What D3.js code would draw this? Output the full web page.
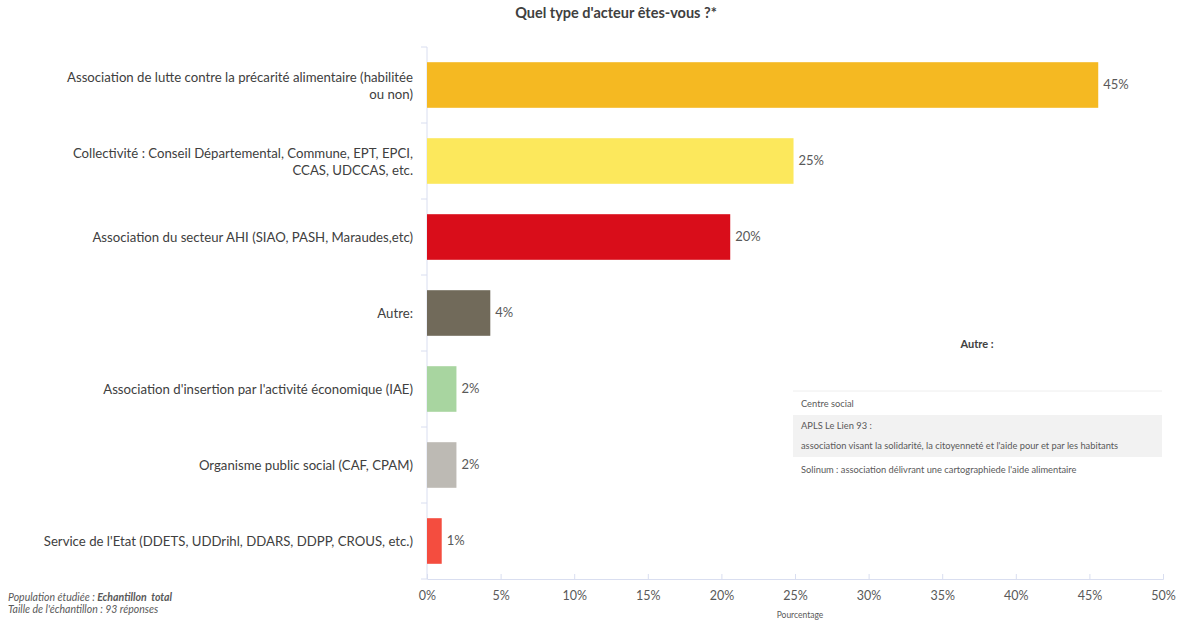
<!DOCTYPE html>
<html>
<head>
<meta charset="utf-8">
<script src="https://cdn.jsdelivr.net/npm/d3@7"></script>
<style>
  body { margin: 0; background: #fff; }
  text { font-family: Lato, "Open Sans", sans-serif; }
</style>
</head>
<body>
<div id="chart"></div>
<script>
// data
var categories = [
  ["Association de lutte contre la précarité alimentaire (habilitée", "ou non)"],
  ["Collectivité : Conseil Départemental, Commune, EPT, EPCI,", "CCAS, UDCCAS, etc."],
  ["Association du secteur AHI (SIAO, PASH, Maraudes,etc)"],
  ["Autre:"],
  ["Association d'insertion par l'activité économique (IAE)"],
  ["Organisme public social (CAF, CPAM)"],
  ["Service de l'Etat (DDETS, UDDrihl, DDARS, DDPP, CROUS, etc.)"]
];
var values = [45.6, 24.9, 20.6, 4.3, 2.0, 2.0, 1.0];
var valueLabels = ["45%", "25%", "20%", "4%", "2%", "2%", "1%"];
var colors = ["#f5b922", "#fce85c", "#d90d1a", "#716a5a", "#a8d5a0", "#bdbab4", "#f44d3f"];
var xTicks = [0, 5, 10, 15, 20, 25, 30, 35, 40, 45, 50];
var autreRows = [
  ["Centre social"],
  ["APLS Le Lien 93 :", "association visant la solidarité, la citoyenneté et l'aide pour et par les habitants"],
  ["Solinum : association délivrant une cartographiede l'aide alimentaire"]
];

var svgWidth = 1178, svgHeight = 624;
var margin = {top: 47, right: 11, bottom: 45, left: 427};
var width = svgWidth - margin.left - margin.right;
var height = svgHeight - margin.top - margin.bottom;

var svg = d3.select("#chart").append("svg")
  .attr("width", svgWidth)
  .attr("height", svgHeight);

svg.append("text")
  .attr("x", 616).attr("y", 18)
  .attr("text-anchor", "middle")
  .attr("font-size", 14.5).attr("font-weight", "bold")
  .attr("fill", "#404040")
  .text("Quel type d'acteur êtes-vous ?*");

var g = svg.append("g")
  .attr("transform", `translate(${margin.left}, ${margin.top})`);

var x = d3.scaleLinear().domain([0, 50]).range([0, 736]);
var y = d3.scaleBand()
  .domain(d3.range(categories.length))
  .range([0, height])
  .paddingInner(0.4)
  .paddingOuter(0.2);

// x axis
var xAxis = g.append("g")
  .attr("transform", `translate(0, ${height})`)
  .call(d3.axisBottom(x).tickValues(xTicks).tickFormat(d => d + "%").tickSize(-5).tickPadding(12));
xAxis.select(".domain").attr("stroke", "#d9def0");
xAxis.selectAll(".tick line").attr("stroke", "#d9def0");
xAxis.selectAll("text").attr("fill", "#595959").attr("font-size", 12.5).attr("font-family", "Lato, sans-serif");

// y axis (boundary ticks)
g.append("line")
  .attr("x1", 0).attr("x2", 0).attr("y1", 0).attr("y2", height)
  .attr("stroke", "#d9def0");
g.selectAll(".ytick")
  .data(d3.range(categories.length + 1))
  .enter().append("line")
  .attr("x1", -6).attr("x2", 0)
  .attr("y1", d => d * y.step())
  .attr("y2", d => d * y.step())
  .attr("stroke", "#d9def0");

var labels = g.selectAll(".ylabel")
  .data(categories)
  .enter().append("text")
  .attr("text-anchor", "end")
  .attr("font-size", 13.2)
  .attr("fill", "#404040")
  .attr("y", (d, i) => y(i) + y.bandwidth() / 2);
labels.selectAll("tspan")
  .data(d => d.map((t, j) => ({t: t, j: j, n: d.length})))
  .enter().append("tspan")
  .attr("x", -14)
  .attr("dy", d => d.j === 0 ? ((d.n === 1 ? 0.35 : -0.25) + "em") : "1.3em")
  .text(d => d.t);

// bars
g.selectAll(".bar")
  .data(values)
  .enter().append("rect")
  .attr("x", 0)
  .attr("y", (d, i) => y(i))
  .attr("width", d => x(d))
  .attr("height", y.bandwidth())
  .attr("fill", (d, i) => colors[i]);

g.selectAll(".val")
  .data(values)
  .enter().append("text")
  .attr("x", d => x(d) + 5)
  .attr("y", (d, i) => y(i) + y.bandwidth() / 2 + 4)
  .attr("font-size", 13)
  .attr("fill", "#595959")
  .text((d, i) => valueLabels[i]);

// axis title
svg.append("text")
  .attr("x", 800).attr("y", 618)
  .attr("text-anchor", "middle")
  .attr("font-size", 8.5).attr("fill", "#595959")
  .text("Pourcentage");

// footnote
var fn = svg.append("text")
  .attr("x", 8).attr("y", 601)
  .attr("font-size", 10.5).attr("font-style", "italic").attr("fill", "#595959")
  .style("white-space", "pre");
fn.append("tspan").text("Population étudiée : ");
fn.append("tspan").attr("font-weight", "bold").text("Echantillon  total");
svg.append("text")
  .attr("x", 8).attr("y", 613)
  .attr("font-size", 10.5).attr("font-style", "italic").attr("fill", "#595959")
  .text("Taille de l'échantillon : 93 réponses");

// inset "Autre"
svg.append("text")
  .attr("x", 977).attr("y", 348)
  .attr("text-anchor", "middle")
  .attr("font-size", 11).attr("font-weight", "bold").attr("fill", "#404040")
  .text("Autre :");
svg.append("line")
  .attr("x1", 793).attr("x2", 1162).attr("y1", 391).attr("y2", 391)
  .attr("stroke", "#eeeeee");
svg.append("rect")
  .attr("x", 793).attr("y", 415).attr("width", 369).attr("height", 42)
  .attr("fill", "#f2f2f2");
var rowY = [404, 426, 470];
autreRows.forEach(function(row, i) {
  row.forEach(function(t, j) {
    svg.append("text")
      .attr("x", 801).attr("y", rowY[i] + j * 20 + 3)
      .attr("font-size", 9.3).attr("fill", "#595959")
      .text(t);
  });
});
</script>
</body>
</html>
